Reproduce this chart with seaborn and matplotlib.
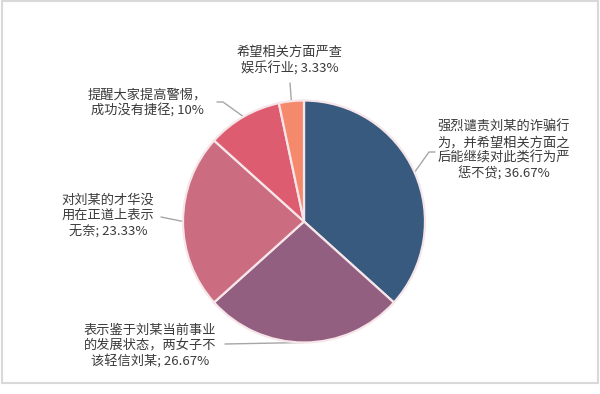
import numpy as np
import matplotlib
matplotlib.use("Agg")
import matplotlib.pyplot as plt
import seaborn as sns
from matplotlib.patches import Rectangle

labels = [
    "强烈谴责刘某的诈骗行\n为，并希望相关方面之\n后能继续对此类行为严\n惩不贷",
    "表示鉴于刘某当前事业\n的发展状态，两女子不\n该轻信刘某",
    "对刘某的才华没\n用在正道上表示\n无奈",
    "提醒大家提高警惕，\n成功没有捷径",
    "希望相关方面严查\n娱乐行业",
]
pct_text = ["36.67%", "26.67%", "23.33%", "10%", "3.33%"]
values = [36.67, 26.67, 23.33, 10.0, 3.33]
colors = ["#375A7E", "#935F80", "#CC6C80", "#DE5C70", "#F48A6B"]

sns.set_style("white")
plt.rcParams["font.family"] = ["Noto Sans CJK SC", "DejaVu Sans"]

W, H = 600, 394
fig = plt.figure(figsize=(6, 3.94), dpi=100)
ax = fig.add_axes([0, 0, 1, 1])

cx, cy, r = 304, H - 221.5, 121
wedges, _ = ax.pie(values, colors=colors, startangle=90, counterclock=False,
                   center=(cx, cy), radius=r, frame=True,
                   wedgeprops=dict(edgecolor="#F7E6E9", linewidth=1.6))
ax.set_xlim(0, W)
ax.set_ylim(0, H)
ax.set_aspect("equal")
ax.axis("off")

# label text centres and leader elbow points (pixel coords, y from top)
text_pos = [(504, 151), (150, 346), (108, 216), (147, 103), (290, 61)]
elbows = [[(429, 152), (435, 152)], [(225, 344)], [(161, 217)],
          [(223, 102), (217, 102)], [(290, 83)]]

for w, lab, pt, (tx, ty), el in zip(wedges, labels, pct_text, text_pos, elbows):
    mid = np.deg2rad((w.theta1 + w.theta2) / 2)
    ex, ey = cx + r * np.cos(mid), cy + r * np.sin(mid)
    xs = [ex] + [p[0] for p in el]
    ys = [ey] + [H - p[1] for p in el]
    ax.plot(xs, ys, color="#A6A6A6", lw=1.0, zorder=0)
    ax.text(tx, H - ty, f"{lab}; {pt}", ha="center", va="center",
            multialignment="center", fontsize=9.5, color="#3A3A3A",
            linespacing=1.22)

fig.patches.append(Rectangle((1.5 / W, 1 - 383 / H), 596 / W, 382 / H,
                             transform=fig.transFigure, fill=False,
                             edgecolor="#D9D9D9", linewidth=1.5))

fig.savefig("out.png", dpi=100, facecolor="white")
